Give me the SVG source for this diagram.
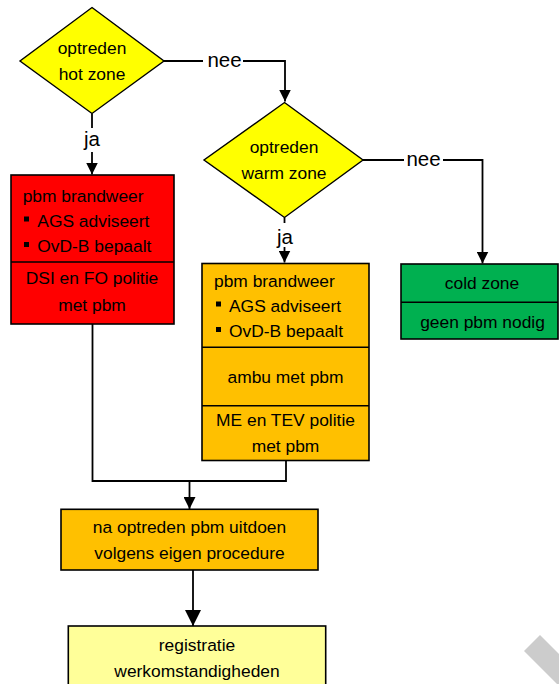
<svg xmlns="http://www.w3.org/2000/svg" width="559" height="684" viewBox="0 0 559 684">
  <style>
    text { font-family: "Liberation Sans", Arial, sans-serif; fill: #000; }
    .t { font-size: 17.4px; }
    .c { text-anchor: middle; }
    .lbl { font-size: 20.5px; text-anchor: middle; }
    .box { stroke: #000; stroke-width: 1.6; }
    .div { stroke: #000; stroke-width: 1.6; fill: none; }
    .dia { fill: #ffff00; stroke: #000; stroke-width: 1.4; }
    .wire { fill: none; stroke: #000; stroke-width: 1.8; }
    .gap { fill: #fff; }
    .bul { fill: #000; }
  </style>
  <defs>
    <marker id="ah" viewBox="0 0 12 12" refX="12" refY="6" markerWidth="12" markerHeight="12" markerUnits="userSpaceOnUse" orient="auto">
      <path d="M0,0 L12,6 L0,12 z" fill="#000"/>
    </marker>
    <marker id="ahBig" viewBox="0 0 16 16" refX="16" refY="8" markerWidth="16" markerHeight="16" markerUnits="userSpaceOnUse" orient="auto">
      <path d="M0,0 L16,8 L0,16 z" fill="#000"/>
    </marker>
  </defs>

  <rect width="559" height="684" fill="#fff"/>

  <!-- connectors -->
  <g id="connectors">
    <path class="wire" d="M164,61 H285 V101.5" marker-end="url(#ah)"/>
    <rect class="gap" x="203" y="50" width="40" height="20"/>
    <text class="lbl" x="224.5" y="66.5">nee</text>

    <path class="wire" d="M92,113.5 V174.5" marker-end="url(#ah)"/>
    <rect class="gap" x="80" y="128" width="24" height="24"/>
    <text class="lbl" x="92" y="146">ja</text>

    <path class="wire" d="M363,160 H482.5 V263.5" marker-end="url(#ah)"/>
    <rect class="gap" x="404" y="149" width="39" height="20"/>
    <text class="lbl" x="423.5" y="165.5">nee</text>

    <path class="wire" d="M284.5,217.5 V262.5" marker-end="url(#ah)"/>
    <rect class="gap" x="273" y="223" width="24" height="24"/>
    <text class="lbl" x="285" y="244">ja</text>

    <path class="wire" d="M92.5,324 V481 H286 V460.5"/>
    <path class="wire" d="M189.5,481 V509" marker-end="url(#ah)"/>
    <path class="wire" d="M193,570 V626" marker-end="url(#ahBig)"/>
  </g>

  <!-- decision: hot zone -->
  <g id="hot-zone">
    <polygon class="dia" points="92,7.5 164,61 92,113.5 20,61"/>
    <text class="t c" x="92" y="54.3">optreden</text>
    <text class="t c" x="92" y="80">hot zone</text>
  </g>

  <!-- decision: warm zone -->
  <g id="warm-zone">
    <polygon class="dia" points="284.5,102.5 363,160 284.5,217.5 204,160"/>
    <text class="t c" x="284" y="153">optreden</text>
    <text class="t c" x="284" y="179">warm zone</text>
  </g>

  <!-- hot zone measures -->
  <g id="hot-pbm">
    <rect class="box" x="11" y="175" width="163" height="149" fill="#ff0000"/>
    <line class="div" x1="11" y1="262" x2="174" y2="262"/>
    <text class="t" x="22.7" y="201.7">pbm brandweer</text>
    <rect class="bul" x="24" y="216.5" width="5" height="5"/>
    <text class="t" x="37.3" y="226.7">AGS adviseert</text>
    <rect class="bul" x="24" y="242" width="5" height="5"/>
    <text class="t" x="37.3" y="252.3">OvD-B bepaalt</text>
    <text class="t c" x="92" y="284.3">DSI en FO politie</text>
    <text class="t c" x="92" y="310.7">met pbm</text>
  </g>

  <!-- warm zone measures -->
  <g id="warm-pbm">
    <rect class="box" x="202" y="263.5" width="167" height="197" fill="#ffc000"/>
    <line class="div" x1="202" y1="347.3" x2="369" y2="347.3"/>
    <line class="div" x1="202" y1="405.7" x2="369" y2="405.7"/>
    <text class="t" x="214" y="286.7">pbm brandweer</text>
    <rect class="bul" x="216" y="301.5" width="5" height="5"/>
    <text class="t" x="229" y="311.7">AGS adviseert</text>
    <rect class="bul" x="216" y="327" width="5" height="5"/>
    <text class="t" x="229" y="337.3">OvD-B bepaalt</text>
    <text class="t c" x="285.5" y="383.3">ambu met pbm</text>
    <text class="t c" x="285.5" y="425.7">ME en TEV politie</text>
    <text class="t c" x="285.5" y="451.7">met pbm</text>
  </g>

  <!-- cold zone -->
  <g id="cold-zone">
    <rect class="box" x="401" y="264" width="157" height="75" fill="#00b050"/>
    <line class="div" x1="401" y1="302.3" x2="558" y2="302.3"/>
    <text class="t c" x="482" y="289.3">cold zone</text>
    <text class="t c" x="482.5" y="327.7">geen pbm nodig</text>
  </g>

  <!-- after deployment -->
  <g id="uitdoen">
    <rect class="box" x="61" y="509.3" width="257" height="60.7" fill="#ffc000"/>
    <text class="t c" x="189.5" y="533.3">na optreden pbm uitdoen</text>
    <text class="t c" x="189.5" y="559.3">volgens eigen procedure</text>
  </g>

  <!-- registration -->
  <g id="registratie">
    <rect class="box" x="68.3" y="626" width="257.4" height="70" fill="#ffff99"/>
    <text class="t c" x="197" y="650.7">registratie</text>
    <text class="t c" x="197" y="677">werkomstandigheden</text>
  </g>

  <!-- grey corner band -->
  <polygon points="524,651 540,635 559,654 559,684 557,684" fill="#cccccc"/>
</svg>
